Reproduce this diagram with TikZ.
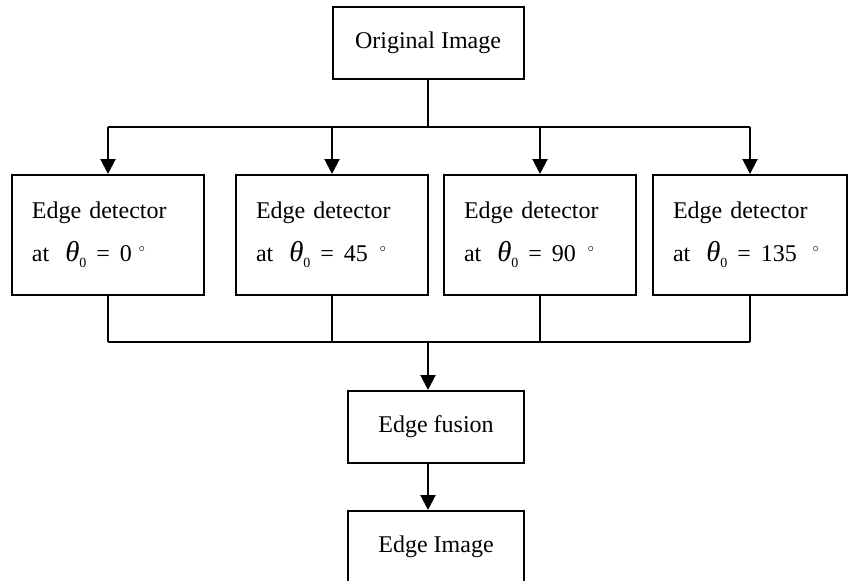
\documentclass[tikz,border=0pt]{standalone}
\usepackage{fontspec}
\setmainfont{Liberation Serif}
\usetikzlibrary{arrows.meta,positioning}

\begin{document}
\begin{tikzpicture}[
  x=0.5pt, y=-0.5pt,
  font=\fontsize{12pt}{14.5pt}\selectfont,
  box/.style={draw, line width=1pt, align=center, inner sep=0pt},
  imgbox/.style={box, minimum width=95.5pt, minimum height=36pt},
  detbox/.style={box, align=left, text width=76pt, inner xsep=10pt, minimum height=60pt},
  arrow/.style={-{Triangle[length=7.5pt, width=7.5pt]}, line width=1pt},
  line/.style={line width=1pt},
]
\useasboundingbox (0,0) rectangle (850,580);

% ===== Input =====
\node[imgbox] (orig) at (428,43) {Original Image};

% ===== Four directional edge detectors =====
\node[detbox] (det1) at (108,235)
  {Edge detector\\[7pt]\mbox{at\hspace{8pt}{\Large\itshape θ}\raisebox{-3pt}{\scriptsize 0}\hspace{5pt}=\hspace{5pt}0\hspace{3pt}\raisebox{5pt}{\tiny$\circ$}}};
\node[detbox] (det2) at (332,235)
  {Edge detector\\[7pt]\mbox{at\hspace{8pt}{\Large\itshape θ}\raisebox{-3pt}{\scriptsize 0}\hspace{5pt}=\hspace{5pt}45\hspace{5.5pt}\raisebox{5pt}{\tiny$\circ$}}};
\node[detbox] (det3) at (540,235)
  {Edge detector\\[7pt]\mbox{at\hspace{8pt}{\Large\itshape θ}\raisebox{-3pt}{\scriptsize 0}\hspace{5pt}=\hspace{5pt}90\hspace{5.5pt}\raisebox{5pt}{\tiny$\circ$}}};
\node[detbox, text width=77pt] (det4) at (750,235)
  {Edge detector\\[7pt]\mbox{at\hspace{8pt}{\Large\itshape θ}\raisebox{-3pt}{\scriptsize 0}\hspace{5pt}=\hspace{5pt}135\hspace{7.5pt}\raisebox{5pt}{\tiny$\circ$}}};

% ===== Fusion and output =====
\node[imgbox, minimum width=88pt] (fuse) at (436,427) {Edge fusion};
\node[imgbox, minimum width=88pt] (out) at (436,547) {Edge Image};

% split bus
\coordinate (split) at (428,127);
\draw[line] (orig.south) -- (split);
\draw[line] (det1.north |- split) -- (det4.north |- split);
\foreach \d in {det1,det2,det3,det4}
  \draw[arrow] (\d.north |- split) -- (\d.north);

% merge bus
\coordinate (merge) at (428,342);
\foreach \d in {det1,det2,det3,det4}
  \draw[line] (\d.south) -- (\d.south |- merge);
\draw[line] (det1.south |- merge) -- (det4.south |- merge);
\draw[arrow] (merge) -- (merge |- fuse.north);

\draw[arrow] (merge |- fuse.south) -- (merge |- out.north);

\end{tikzpicture}
\end{document}
